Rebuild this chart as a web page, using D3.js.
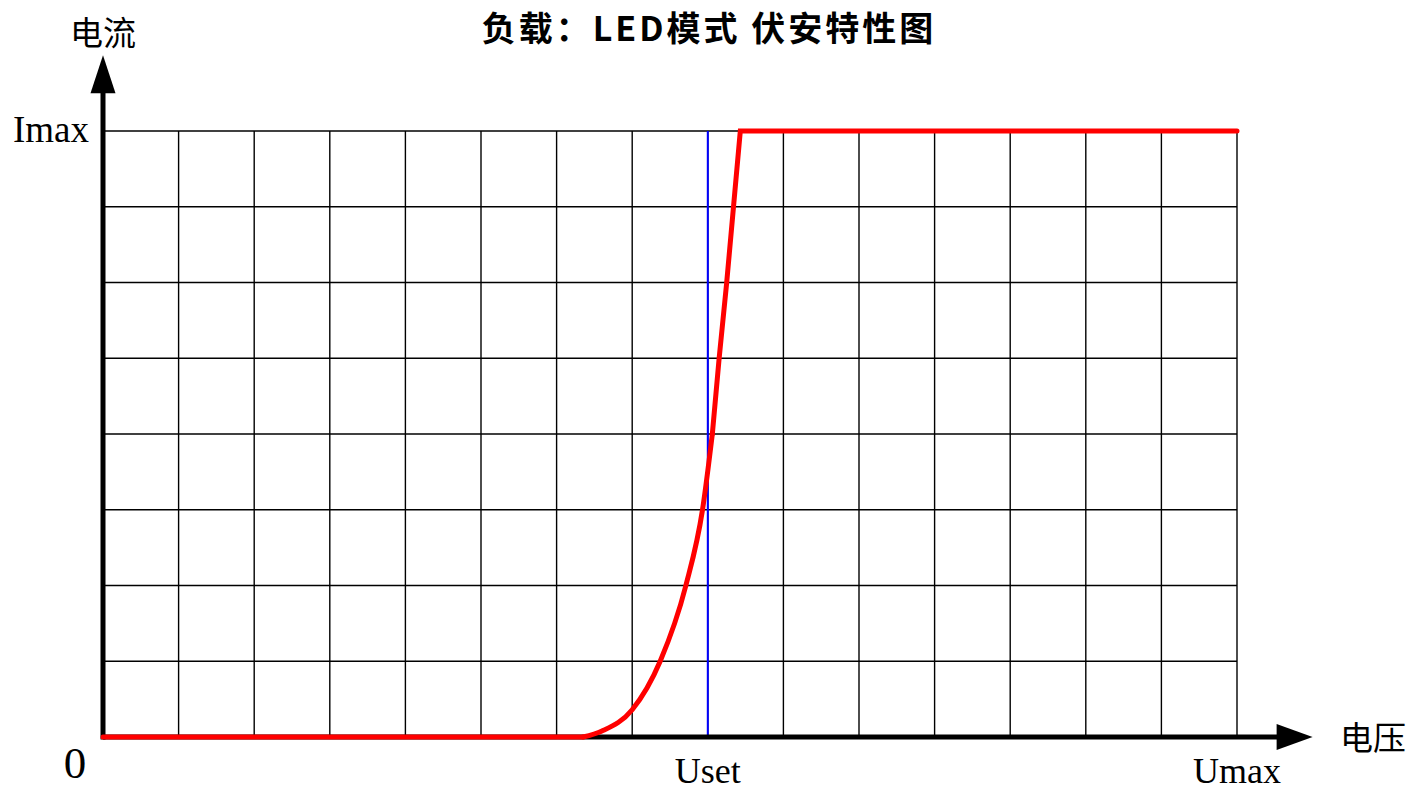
<!DOCTYPE html>
<html>
<head>
<meta charset="utf-8">
<script src="https://cdn.jsdelivr.net/npm/d3@7"></script>
<style>
  body { margin: 0; background: #fff; }
  svg { display: block; }
</style>
</head>
<body>
<svg id="chart" width="1411" height="792"></svg>
<script>
// Data (grid units: 15 columns for voltage, 8 rows for current)
var gridCols = d3.range(0, 16);
var gridRows = d3.range(0, 9);
var ivRise = [[0, 0], [6.35, 0], [6.6, 0.08], [7, 0.36], [7.37, 1], [7.71, 2], [7.93, 3], [8.06, 4], [8.15, 5], [8.25, 6], [8.34, 7], [8.43, 8]];
var ivFlat = [[8.43, 8], [15, 8]];
var usetValue = 8;
var xTickLabels = [{v: 8, text: "Uset"}, {v: 15, text: "Umax"}];
var yTickLabels = [{v: 8, text: "Imax"}];
var titleText = "负载：LED模式 伏安特性图";

var svg = d3.select("#chart");

var x = d3.scaleLinear().domain([0, 15]).range([103, 1237]);
var y = d3.scaleLinear().domain([0, 8]).range([737, 131]);

// Grid
svg.append("g")
    .selectAll("line")
    .data(gridCols)
    .enter()
    .append("line")
    .attr("x1", d => x(d)).attr("x2", d => x(d))
    .attr("y1", y(0)).attr("y2", y(8))
    .style("stroke", "#000")
    .style("stroke-width", 1.4);

svg.append("g")
    .selectAll("line")
    .data(gridRows)
    .enter()
    .append("line")
    .attr("x1", x(0)).attr("x2", x(15))
    .attr("y1", d => y(d)).attr("y2", d => y(d))
    .style("stroke", "#000")
    .style("stroke-width", 1.4);

// Uset marker
svg.append("line")
    .attr("x1", x(usetValue)).attr("x2", x(usetValue))
    .attr("y1", y(0)).attr("y2", y(8))
    .style("stroke", "#0000ff")
    .style("stroke-width", 2);

// Axes with arrows
var xEnd = x(16), yEnd = y(9);
svg.append("line")
    .attr("x1", x(0)).attr("x2", xEnd - 30)
    .attr("y1", y(0)).attr("y2", y(0))
    .style("stroke", "#000").style("stroke-width", 5);
svg.append("path")
    .attr("d", "M" + xEnd + "," + y(0) + "L" + (xEnd - 36) + "," + (y(0) - 13) + "L" + (xEnd - 36) + "," + (y(0) + 13) + "Z")
    .style("fill", "#000");

svg.append("line")
    .attr("x1", x(0)).attr("x2", x(0))
    .attr("y1", y(0) + 2.5).attr("y2", yEnd + 30)
    .style("stroke", "#000").style("stroke-width", 5);
svg.append("path")
    .attr("d", "M" + x(0) + "," + yEnd + "L" + (x(0) - 12.5) + "," + (yEnd + 38) + "L" + (x(0) + 12.5) + "," + (yEnd + 38) + "Z")
    .style("fill", "#000");

// Characteristic curve
var lineCurve = d3.line().x(d => x(d[0])).y(d => y(d[1])).curve(d3.curveMonotoneX);
var lineStraight = d3.line().x(d => x(d[0])).y(d => y(d[1]));

svg.append("path")
    .attr("d", lineStraight([[0, 0], ivRise[1]]))
    .style("fill", "none").style("stroke", "#ff0000").style("stroke-width", 5).style("stroke-linecap", "round");
svg.append("path")
    .attr("d", lineCurve(ivRise.slice(1, 8)))
    .style("fill", "none").style("stroke", "#ff0000").style("stroke-width", 5).style("stroke-linecap", "round");
svg.append("path")
    .attr("d", lineStraight(ivRise.slice(7).concat(ivFlat.slice(1))))
    .style("fill", "none").style("stroke", "#ff0000").style("stroke-width", 5)
    .style("stroke-linejoin", "miter").style("stroke-linecap", "round");

// Labels
var serif = "'Liberation Serif', 'Times New Roman', serif";
var cjk = "'Noto Sans CJK SC', sans-serif";

svg.selectAll(".xlab")
    .data(xTickLabels)
    .enter()
    .append("text")
    .attr("x", d => x(d.v))
    .attr("y", 783)
    .attr("text-anchor", "middle")
    .style("font-family", serif)
    .style("font-size", "36px")
    .text(d => d.text);

svg.selectAll(".ylab")
    .data(yTickLabels)
    .enter()
    .append("text")
    .attr("x", x(0) - 14)
    .attr("y", d => y(d.v) + 11)
    .attr("text-anchor", "end")
    .style("font-family", serif)
    .style("font-size", "37px")
    .text(d => d.text);

svg.append("text")
    .attr("x", 75).attr("y", 778)
    .attr("text-anchor", "middle")
    .style("font-family", serif)
    .style("font-size", "45px")
    .text("0");

svg.append("text")
    .attr("x", x(0)).attr("y", 45)
    .attr("text-anchor", "middle")
    .style("font-family", cjk)
    .style("font-size", "33px")
    .text("电流");

svg.append("text")
    .attr("x", 1373).attr("y", 750)
    .attr("text-anchor", "middle")
    .style("font-family", cjk)
    .style("font-size", "33px")
    .text("电压");

svg.append("text")
    .attr("x", 709).attr("y", 41)
    .attr("text-anchor", "middle")
    .style("font-family", cjk)
    .style("font-weight", "bold")
    .style("font-size", "34px")
    .style("letter-spacing", "3px")
    .text(titleText);
</script>
</body>
</html>
